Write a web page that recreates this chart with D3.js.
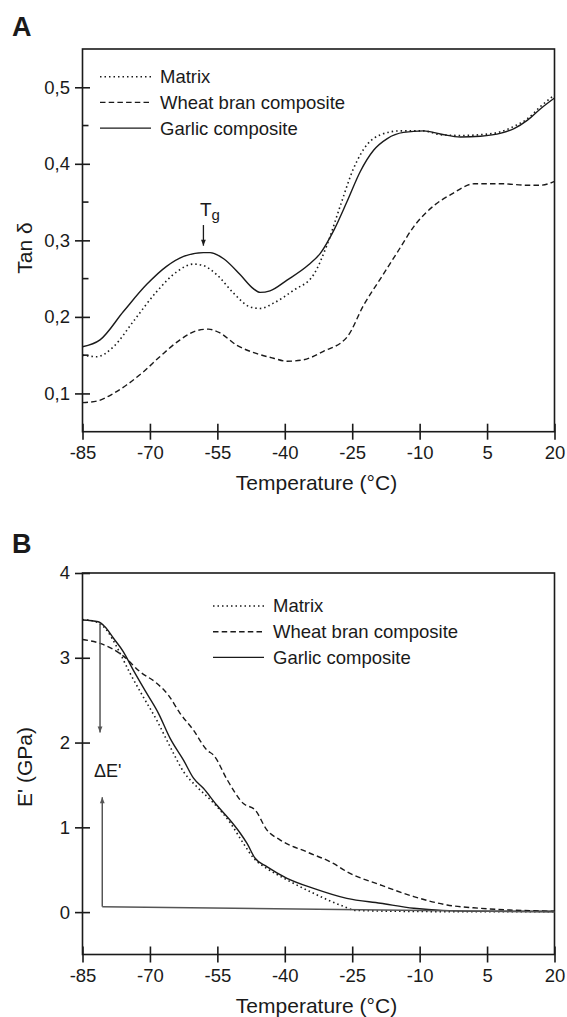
<!DOCTYPE html>
<html>
<head>
<meta charset="utf-8">
<script src="https://cdn.jsdelivr.net/npm/d3@7"></script>
<style>
  body { margin: 0; background: #fff; }
  svg text { font-family: "Liberation Sans", Arial, Helvetica, sans-serif; fill: #1a1a1a; }
</style>
</head>
<body>
<div id="chart"></div>
<script>
// tick values
var xTicks = [-85, -70, -55, -40, -25, -10, 5, 20];
var tanTicks = [0.1, 0.2, 0.3, 0.4, 0.5];
var tanMinorTicks = [0.15, 0.25, 0.35, 0.45];
var modulusTicks = [0, 1, 2, 3, 4];
var legendNames = ["Matrix", "Wheat bran composite", "Garlic composite"];

// panel A : tan delta vs temperature
var tanMatrix = [[-85, 0.150], [-81.8, 0.148], [-78.1, 0.161], [-73.7, 0.194], [-68.5, 0.233], [-64, 0.259], [-60.3, 0.269], [-58.1, 0.267], [-55.1, 0.255], [-51.4, 0.231], [-47.7, 0.213], [-45.5, 0.211], [-42.5, 0.218], [-38, 0.235], [-33.6, 0.255], [-30.6, 0.294], [-27.6, 0.346], [-24.7, 0.394], [-21.7, 0.425], [-18.7, 0.438], [-14.3, 0.443], [-9.1, 0.443], [-5.4, 0.438], [-0.9, 0.437], [3.5, 0.438], [8.1, 0.442], [11, 0.449], [14, 0.459], [16.9, 0.475], [20, 0.490]];
var tanWheat = [[-85, 0.088], [-81.8, 0.090], [-78.1, 0.100], [-75.2, 0.111], [-71.5, 0.128], [-67.8, 0.148], [-63.3, 0.170], [-59.6, 0.182], [-57, 0.184], [-54.4, 0.179], [-50.7, 0.163], [-46.2, 0.152], [-42.5, 0.146], [-39.5, 0.142], [-35.8, 0.144], [-31.4, 0.155], [-26.1, 0.174], [-22.4, 0.216], [-18.7, 0.250], [-14.9, 0.285], [-11.3, 0.318], [-6.7, 0.346], [-3, 0.360], [2.2, 0.374], [8.1, 0.374], [14, 0.372], [16.9, 0.372], [20, 0.377]];
var tanGarlic = [[-85, 0.161], [-81.1, 0.170], [-75.9, 0.207], [-70.7, 0.2425], [-66.3, 0.266], [-62.5, 0.279], [-58.1, 0.284], [-56.6, 0.284], [-53.6, 0.276], [-49.9, 0.255], [-47, 0.237], [-45.5, 0.232], [-43.3, 0.234], [-39.5, 0.248], [-34.7, 0.268], [-32.1, 0.283], [-29.1, 0.313], [-26.2, 0.350], [-23.2, 0.390], [-20.2, 0.418], [-17.2, 0.433], [-13.6, 0.441], [-9.1, 0.443], [-5.4, 0.439], [-0.9, 0.435], [3.5, 0.436], [8.1, 0.440], [11, 0.446], [14, 0.457], [16.9, 0.472], [20, 0.486]];

// panel B : storage modulus E' (GPa) vs temperature
var modMatrix = [[-85, 3.45], [-82.6, 3.435], [-79.6, 3.325], [-77.4, 3.13], [-74.4, 2.815], [-71.5, 2.54], [-68.5, 2.265], [-65.5, 1.95], [-62.5, 1.655], [-59.6, 1.48], [-55.8, 1.285], [-52.1, 1.05], [-49.2, 0.81], [-46.9, 0.635], [-44, 0.516], [-39.5, 0.38], [-33.6, 0.222], [-27.7, 0.084], [-24, 0.02], [-15, 0.01], [0, 0.005], [20, 0.005]];
var modWheat = [[-85, 3.215], [-81.1, 3.17], [-75.9, 3.02], [-72.2, 2.835], [-68.5, 2.70], [-65.9, 2.56], [-63.3, 2.345], [-60.3, 2.145], [-57.3, 1.91], [-55.8, 1.85], [-52.8, 1.56], [-49.2, 1.28], [-46.6, 1.205], [-44, 0.97], [-41, 0.85], [-35.1, 0.71], [-29.2, 0.575], [-26.2, 0.477], [-18.7, 0.32], [-11.3, 0.183], [-3.9, 0.084], [3.5, 0.045], [10, 0.025], [20, 0.01]];
var modGarlic = [[-85, 3.445], [-81.5, 3.425], [-80, 3.365], [-78.1, 3.23], [-75.9, 3.07], [-73.7, 2.855], [-70.7, 2.58], [-68.1, 2.345], [-65.5, 2.05], [-62.5, 1.79], [-60.3, 1.58], [-58.1, 1.46], [-55.1, 1.26], [-52.5, 1.105], [-49.9, 0.93], [-48.4, 0.81], [-46.6, 0.635], [-44, 0.536], [-39.5, 0.398], [-33.6, 0.28], [-26.2, 0.162], [-18.7, 0.104], [-11.3, 0.045], [-5, 0.02], [5, 0.01], [20, 0.01]];

// annotations
var tgArrow = [[-58.1, 0.320], [-58.1, 0.293]];
var dropArrowDown = [[-81.1, 3.405], [-81.1, 2.12]];
var dropArrowUp = [[-80.6, 0.064], [-80.6, 1.355]];
var dropBaseline = [[-80.6, 0.064], [20, 0.0]];

var dashes = ["1.5,3", "5.5,3.2", null];

var width = 472;
var svg = d3.select("#chart")
  .append("svg")
  .attr("width", 567)
  .attr("height", 1017);

// arrow heads
var defs = svg.append("defs");
["#1a1a1a", "#555"].forEach(function (c, i) {
  defs.append("marker")
    .attr("id", "head" + i)
    .attr("viewBox", "0 0 10 10")
    .attr("refX", 10).attr("refY", 5)
    .attr("markerUnits", "userSpaceOnUse")
    .attr("markerWidth", 8).attr("markerHeight", 6)
    .attr("orient", "auto")
    .append("path")
    .attr("d", "M0,1 L10,5 L0,9 Z")
    .attr("fill", c);
});

var line = function (x, y) {
  return d3.line()
    .x(function (d) { return x(d[0]) })
    .y(function (d) { return y(d[1]) })
    .curve(d3.curveMonotoneX);
};

function drawPanel(opt) {
  var g = svg.append("g")
    .attr("transform", "translate(" + opt.left + "," + opt.top + ")");

  var x = d3.scaleLinear().domain([-85, 20]).range([0, width]);
  var y = d3.scaleLinear().domain(opt.yDomain).range([opt.height, 0]);

  // frame
  g.append("rect")
    .attr("width", width).attr("height", opt.height)
    .attr("fill", "none").attr("stroke", "#1a1a1a").attr("stroke-width", 1.6);

  // X axis (plain hyphen, as in the figure)
  var xa = g.append("g")
    .attr("transform", "translate(0," + opt.height + ")")
    .call(d3.axisBottom(x).tickValues(xTicks).tickSize(8).tickPadding(6).tickFormat(function (d) { return String(d) }));
  xa.selectAll(".tick line").attr("y1", -8).attr("stroke-width", 1.6);

  // Y axis
  var ya = g.append("g")
    .call(d3.axisLeft(y).tickValues(opt.yTicks).tickSize(7.5).tickPadding(5).tickFormat(opt.format));
  ya.selectAll(".tick line").attr("x1", 7.5).attr("stroke-width", 1.6);

  [xa, ya].forEach(function (a) {
    a.select(".domain").remove();
    a.selectAll("text").style("font-size", "18.5px").attr("fill", "#1a1a1a");
    a.selectAll("line").attr("stroke", "#1a1a1a");
  });

  if (opt.minor) {
    g.selectAll(".minor")
      .data(opt.minor)
      .enter().append("line")
      .attr("x1", 0).attr("x2", 6)
      .attr("y1", function (d) { return y(d) }).attr("y2", function (d) { return y(d) })
      .attr("stroke", "#1a1a1a").attr("stroke-width", 1.6);
  }

  // titles
  g.append("text")
    .attr("x", width / 2 - 2).attr("y", opt.height + 58)
    .attr("text-anchor", "middle")
    .style("font-size", "21px")
    .text("Temperature (°C)");

  g.append("text")
    .attr("transform", "translate(" + (25 - opt.left) + "," + opt.yTitleAt + ") rotate(-90)")
    .attr("text-anchor", "middle")
    .attr("dy", "0.35em")
    .style("font-size", "21px")
    .text(opt.yTitle);

  svg.append("text")
    .attr("x", 12).attr("y", opt.top + opt.letterDy)
    .style("font-size", "27px").style("font-weight", "bold")
    .text(opt.letter);

  // the curves
  opt.series.forEach(function (s, i) {
    g.append("path")
      .datum(s)
      .attr("fill", "none")
      .attr("stroke", "#1a1a1a")
      .attr("stroke-width", i == 0 ? 1.6 : 1.4)
      .attr("stroke-dasharray", dashes[i])
      .attr("d", line(x, y));
  });

  // legend
  var leg = g.append("g")
    .attr("transform", "translate(" + opt.legX + "," + opt.legY + ")");
  legendNames.forEach(function (n, i) {
    leg.append("line")
      .attr("x1", 0).attr("x2", 51)
      .attr("y1", i * 25.7).attr("y2", i * 25.7)
      .attr("stroke", "#1a1a1a").attr("stroke-width", i == 0 ? 1.6 : 1.4)
      .attr("stroke-dasharray", dashes[i]);
    leg.append("text")
      .attr("x", 60).attr("y", i * 25.7)
      .attr("dy", "0.35em")
      .style("font-size", "18.5px")
      .text(n);
  });

  return { g: g, x: x, y: y };
}

// Panel A
var pa = drawPanel({
  left: 82.5, top: 49, height: 382.7,
  yDomain: [0.05, 0.55], yTicks: tanTicks, minor: tanMinorTicks,
  format: function (d) { return d3.format(".1f")(d).replace(".", ",") },
  yTitle: "Tan δ", yTitleAt: 199,
  letter: "A", letterDy: -13,
  series: [tanMatrix, tanWheat, tanGarlic],
  legX: 17.5, legY: 27.7
});

pa.g.append("path")
  .datum(tgArrow)
  .attr("stroke", "#1a1a1a").attr("stroke-width", 1.3)
  .attr("marker-end", "url(#head0)")
  .attr("d", d3.line().x(function (d) { return pa.x(d[0]) }).y(function (d) { return pa.y(d[1]) }));

var tg = pa.g.append("text")
  .attr("x", pa.x(tgArrow[0][0]) - 3.5)
  .attr("y", pa.y(tgArrow[0][1]) - 9)
  .style("font-size", "19px");
tg.append("tspan").text("T");
tg.append("tspan").attr("dy", 4).style("font-size", "15px").text("g");

// Panel B
var pb = drawPanel({
  left: 82.5, top: 573, height: 381.5,
  yDomain: [-0.5, 4], yTicks: modulusTicks, minor: null,
  format: d3.format("d"),
  yTitle: "E' (GPa)", yTitleAt: 194,
  letter: "B", letterDy: -20,
  series: [modMatrix, modWheat, modGarlic],
  legX: 130.5, legY: 33
});

var straight = d3.line().x(function (d) { return pb.x(d[0]) }).y(function (d) { return pb.y(d[1]) });

pb.g.append("path")
  .datum(dropBaseline)
  .attr("fill", "none").attr("stroke", "#555").attr("stroke-width", 1.5)
  .attr("d", straight);

[dropArrowDown, dropArrowUp].forEach(function (a) {
  pb.g.append("path")
    .datum(a)
    .attr("fill", "none").attr("stroke", "#555").attr("stroke-width", 1.5)
    .attr("marker-end", "url(#head1)")
    .attr("d", straight);
});

pb.g.append("text")
  .attr("x", pb.x(dropArrowDown[0][0]) - 6)
  .attr("y", pb.y(1.59))
  .style("font-size", "18px")
  .attr("fill", "#333")
  .text("ΔE'");
</script>
</body>
</html>
